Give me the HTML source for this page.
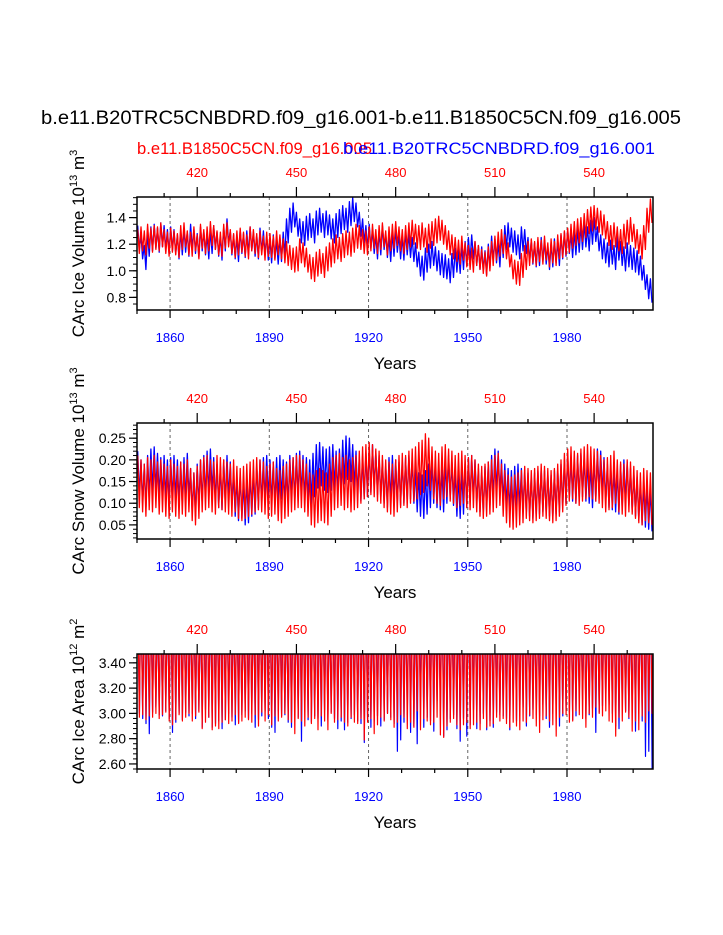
<!DOCTYPE html>
<html><head><meta charset="utf-8"><style>
html,body{margin:0;padding:0;background:#fff;}
svg{display:block;font-family:"Liberation Sans",Arial,sans-serif;}
</style></head><body>
<svg id="fig" width="723" height="935" viewBox="0 0 723 935">
<text x="361" y="124" font-size="19" text-anchor="middle" textLength="640" lengthAdjust="spacingAndGlyphs">b.e11.B20TRC5CNBDRD.f09_g16.001-b.e11.B1850C5CN.f09_g16.005</text>
<text x="137" y="154" font-size="17" fill="#ff0000" textLength="235" lengthAdjust="spacingAndGlyphs">b.e11.B1850C5CN.f09_g16.005</text>
<text x="343" y="154" font-size="17" fill="#0000ff" textLength="312" lengthAdjust="spacingAndGlyphs">b.e11.B20TRC5CNBDRD.f09_g16.001</text>
</svg>
<script>
// ---- data (annual, 1850..2005) ----
const startYear = 1850;
const volBlue = [125,118,110,120,124,126,123,127,125,122,124,122,118,121,123,120,126,122,119,124,121,118,122,125,120,117,124,130,121,118,116,122,119,121,124,120,118,123,121,117,115,118,114,116,120,130,138,142,135,130,128,132,134,130,136,138,134,136,133,130,134,137,140,138,143,146,142,135,130,125,126,122,118,121,125,119,116,120,123,118,117,121,119,116,112,105,102,108,111,113,109,106,104,103,100,104,108,107,110,113,116,118,113,110,109,106,111,117,115,112,119,125,127,123,121,118,124,122,116,114,112,113,116,114,110,112,115,113,118,120,122,119,121,123,125,127,124,129,131,124,118,115,112,114,110,117,113,109,112,110,108,106,102,95,88,85];
const volRed = [122,124,121,126,123,125,124,127,122,120,123,121,119,125,127,121,120,124,118,126,122,124,128,125,121,120,126,127,122,119,121,123,120,118,124,122,119,121,117,120,119,117,121,118,115,113,110,108,109,115,112,108,103,101,105,107,104,109,112,115,118,116,119,121,120,123,126,125,122,121,124,126,122,125,127,121,124,126,128,124,122,125,127,129,126,125,127,123,126,128,130,132,129,125,121,118,116,114,117,112,110,108,113,110,107,105,109,113,117,120,122,118,112,103,99,98,104,110,113,115,113,116,114,117,112,115,113,118,119,121,123,126,128,130,131,134,137,139,140,138,136,133,128,125,127,124,122,126,129,131,126,122,118,125,138,145];
const snowBlue = [170,150,140,160,175,180,165,155,160,150,155,160,150,145,155,165,130,120,140,150,160,170,175,155,140,135,150,160,145,120,110,115,100,105,120,125,140,150,155,160,150,145,155,160,150,145,160,155,165,170,160,155,150,165,185,190,180,175,180,185,170,175,195,205,200,185,170,155,160,165,175,185,170,160,150,140,155,160,150,145,150,155,160,150,130,120,115,125,140,150,140,135,130,150,160,145,120,115,125,140,155,160,150,130,125,135,145,160,175,170,150,140,130,125,135,140,130,125,120,115,120,125,130,125,120,115,125,130,140,150,160,155,150,160,165,155,150,140,155,175,170,155,140,135,130,125,140,150,145,130,120,110,100,95,90,85];
const snowRed = [150,140,130,145,140,150,135,140,130,125,140,130,125,135,130,140,120,110,125,140,145,150,140,135,150,145,140,135,130,140,125,120,125,130,135,140,145,140,135,125,130,135,120,115,125,130,140,145,150,150,140,130,110,105,115,120,115,110,130,145,150,155,145,150,140,145,150,160,170,175,180,175,165,160,150,140,135,130,140,150,155,150,160,165,170,180,185,200,190,170,160,155,170,175,165,160,150,155,160,150,145,150,140,130,125,130,135,140,150,155,130,115,105,100,105,110,115,125,120,115,120,125,130,125,120,115,120,130,140,155,165,170,160,155,165,170,175,170,165,160,150,140,145,150,160,140,135,130,140,135,125,115,110,120,115,110];
const areaMinBlue = [300,296,292,284,301,305,299,298,302,296,285,293,300,295,301,298,300,296,302,289,303,297,289,292,294,288,295,300,297,291,293,299,302,296,300,289,295,298,302,296,289,285,302,298,299,293,289,301,297,278,302,295,293,298,296,290,303,295,301,296,288,294,287,293,296,299,294,292,277,295,289,294,298,290,295,300,297,292,270,279,293,299,285,290,276,313,289,297,294,286,310,303,282,287,296,299,288,278,296,282,291,303,288,292,300,287,294,289,301,299,298,296,287,307,294,298,305,290,298,303,299,298,307,296,289,300,302,290,298,303,301,295,298,314,311,296,299,304,285,301,306,310,307,300,290,288,306,302,296,303,286,300,294,266,270,256];
const areaMinRed = [297,299,295,298,297,300,296,299,301,294,291,295,299,294,297,300,294,298,301,288,293,297,287,290,288,293,295,292,294,299,292,294,297,295,293,299,290,301,294,299,291,298,294,297,300,295,293,284,296,294,290,297,292,296,287,298,294,287,300,293,295,297,293,290,297,293,292,296,279,293,296,284,291,297,294,300,295,289,293,299,297,288,293,289,302,287,296,294,291,293,297,283,281,290,293,296,291,287,291,293,288,291,293,287,296,289,290,292,297,294,296,292,289,293,290,287,294,293,299,296,290,285,295,298,294,291,282,297,300,299,293,294,302,299,296,289,300,297,305,300,298,302,294,293,282,297,294,301,297,286,294,287,298,293,302,300];
const areaMaxValue = 3.48;
const volSeasonRange = 0.18;
const snowBlueRange = 0.1;
const snowRedRange = 0.12;
const xTicks = [1860,1890,1920,1950,1980];
const topTicks = [420,450,480,510,540];
const volTicks = ["0.8","1.0","1.2","1.4"];
const snowTicks = ["0.05","0.10","0.15","0.20","0.25"];
const areaTicks = ["2.60","2.80","3.00","3.20","3.40"];

const NS = "http://www.w3.org/2000/svg";
const svg = document.getElementById('fig');
const X0 = 137, X1 = 653, YR0 = 1850, YR1 = 2006, MODEL_OFFSET = 1448.2;
function xs(yr){ return X0 + (yr - YR0) / (YR1 - YR0) * (X1 - X0); }
function mk(tag, attrs, parent){ const e = document.createElementNS(NS, tag); for (const k in attrs) e.setAttribute(k, attrs[k]); (parent||svg).appendChild(e); return e; }

function panel(cfg){
  const {top, bot, ymin, ymax, ticks, minorStep, name, title, sup1, sup2} = cfg;
  const ys = v => bot - (v - ymin) / (ymax - ymin) * (bot - top);
  const g = mk('g', {});
  
  
  const cid = 'clip-' + name;
  const cp = mk('clipPath', {id: cid}, g);
  mk('rect', {x: X0, y: top, width: X1 - X0, height: bot - top}, cp);
  xTicks.forEach(t => {
    const l = mk('line', {x1: xs(t), x2: xs(t), y1: top, y2: bot, stroke: '#666', 'stroke-width': 1, 'stroke-dasharray': '3,3'}, g);
    
    
  });
  cfg.series.forEach(s => {
    const pts = [];
    for (let i = 0; i < s.hi.length; i++) {
      const yr = startYear + i;
      if (s.area) {
        pts.push([xs(yr + 0.1), ys(s.hi[i])]);
        pts.push([xs(yr + 0.45), ys(s.hi[i])]);
        pts.push([xs(yr + 0.72), ys(s.lo[i])]);
        pts.push([xs(yr + 0.95), ys(s.hi[i])]);
      } else {
        pts.push([xs(yr + 0.2), ys(s.hi[i])]);
        pts.push([xs(yr + 0.7), ys(s.lo[i])]);
      }
    }
    const p = mk('polyline', {points: pts.map(q => q[0].toFixed(1) + ',' + q[1].toFixed(1)).join(' '), fill: 'none', stroke: s.color, 'stroke-width': s.area ? 1.2 : 1.3, 'stroke-linejoin': 'round', 'clip-path': 'url(#' + cid + ')'}, g);
    
    
  });
  const fr = mk('rect', {x: X0, y: top, width: X1 - X0, height: bot - top, fill: 'none', stroke: '#000', 'stroke-width': 1.5}, g);
  
  
  for (let v = Math.ceil(ymin / minorStep) * minorStep; v <= ymax + 1e-9; v += minorStep) {
    mk('line', {x1: X0 - 4, x2: X0, y1: ys(v), y2: ys(v), stroke: '#000', 'stroke-width': 1}, g);
  }
  ticks.forEach(t => {
    const v = parseFloat(t);
    mk('line', {x1: X0 - 8, x2: X0, y1: ys(v), y2: ys(v), stroke: '#000', 'stroke-width': 1.2}, g);
    const tx = mk('text', {x: X0 - 11, y: ys(v) + 5, 'font-size': 14, 'text-anchor': 'end'}, g);
    tx.textContent = t;
    
    
  });
  for (let yr = 1850; yr <= 2005; yr += 10) {
    const major = xTicks.indexOf(yr) >= 0;
    mk('line', {x1: xs(yr), x2: xs(yr), y1: bot, y2: bot + (major ? 8 : 4), stroke: '#000', 'stroke-width': 1.2}, g);
  }
  xTicks.forEach(t => {
    const tx = mk('text', {x: xs(t), y: bot + 32, 'font-size': 13, 'text-anchor': 'middle', fill: '#0000ff'}, g);
    tx.textContent = t;
    
    
  });
  const xt = mk('text', {x: 395, y: bot + 59, 'font-size': 17, 'text-anchor': 'middle'}, g);
  xt.textContent = 'Years';
  
  
  for (let m = 410; m <= 550; m += 10) {
    const major = topTicks.indexOf(m) >= 0;
    const x = xs(m + MODEL_OFFSET);
    if (x < X0 || x > X1) continue;
    mk('line', {x1: x, x2: x, y1: top, y2: top - (major ? 10 : 4), stroke: '#000', 'stroke-width': 1.2}, g);
  }
  topTicks.forEach(m => {
    const tx = mk('text', {x: xs(m + MODEL_OFFSET), y: top - 20, 'font-size': 13, 'text-anchor': 'middle', fill: '#ff0000'}, g);
    tx.textContent = m;
    
    
  });
  const cy = (top + bot) / 2 - 10;
  const yt = mk('text', {x: 84, y: cy, 'font-size': 17, 'text-anchor': 'middle', transform: 'rotate(-90 84 ' + cy + ')'}, g);
  
  
  yt.appendChild(document.createTextNode(title + ' 10'));
  const s1 = mk('tspan', {'font-size': 11, dy: -7}, yt); s1.textContent = sup1;
  const sp = mk('tspan', {'font-size': 17, dy: 7}, yt); sp.textContent = ' m';
  const s2 = mk('tspan', {'font-size': 11, dy: -7}, yt); s2.textContent = sup2;
}

panel({top: 197, bot: 310, ymin: 0.705, ymax: 1.555, ticks: volTicks, minorStep: 0.05, name: 'ice-volume', title: 'CArc Ice Volume', sup1: '13', sup2: '3',
  series: [
    {name: 'ice-volume-blue-line', color: '#0000ff', hi: volBlue.map(v => v/100 + volSeasonRange/2), lo: volBlue.map(v => v/100 - volSeasonRange/2)},
    {name: 'ice-volume-red-line', color: '#ff0000', hi: volRed.map(v => v/100 + volSeasonRange/2), lo: volRed.map(v => v/100 - volSeasonRange/2)}
  ]});
panel({top: 423, bot: 539, ymin: 0.0175, ymax: 0.285, ticks: snowTicks, minorStep: 0.01, name: 'snow-volume', title: 'CArc Snow Volume', sup1: '13', sup2: '3',
  series: [
    {name: 'snow-volume-blue-line', color: '#0000ff', hi: snowBlue.map(v => v/1000 + snowBlueRange/2), lo: snowBlue.map(v => v/1000 - snowBlueRange/2)},
    {name: 'snow-volume-red-line', color: '#ff0000', hi: snowRed.map(v => v/1000 + snowRedRange/2), lo: snowRed.map(v => v/1000 - snowRedRange/2)}
  ]});
panel({top: 654, bot: 769, ymin: 2.56, ymax: 3.47, ticks: areaTicks, minorStep: 0.04, name: 'ice-area', title: 'CArc Ice Area', sup1: '12', sup2: '2',
  series: [
    {name: 'ice-area-blue-line', color: '#0000ff', area: true, hi: areaMinBlue.map(() => areaMaxValue), lo: areaMinBlue.map(v => v/100)},
    {name: 'ice-area-red-line', color: '#ff0000', area: true, hi: areaMinRed.map(() => areaMaxValue), lo: areaMinRed.map(v => v/100)}
  ]});
</script>
</body></html>
